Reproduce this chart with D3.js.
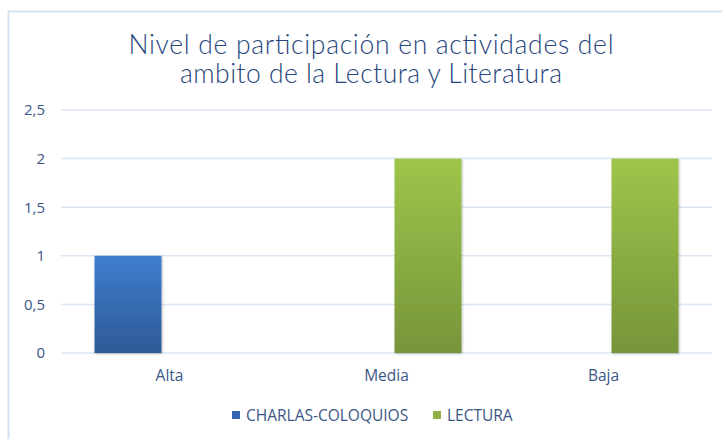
<!DOCTYPE html>
<html>
<head>
<meta charset="utf-8">
<script src="https://cdn.jsdelivr.net/npm/d3@7"></script>
<style>
  body { margin: 0; background: #fff; }
  svg { display: block; }
</style>
</head>
<body>
<svg id="chart"></svg>
<script>
// data
let categories = ['Alta', 'Media', 'Baja'];
let seriesNames = ['CHARLAS-COLOQUIOS', 'LECTURA'];
let charlasValues = [1, 0, 0];
let lecturaValues = [0, 2, 2];
let yTicks = [0, 0.5, 1, 1.5, 2, 2.5];
let titleLines = ['Nivel de participación en actividades del', 'ambito de la Lectura y Literatura'];

let width = 722;
let height = 439;
let margin = { top: 110, bot: 86, left: 61, right: 10 };
let bodyWidth = width - margin.left - margin.right;
let bodyHeight = height - margin.top - margin.bot;

let textColor = '#3a5687';
let gridColor = '#dce6f2';

let svg = d3.select('#chart')
  .attr('width', width)
  .attr('height', height);

// gradients for bars
let defs = svg.append('defs');
function addGradient(id, top, bottom) {
  let g = defs.append('linearGradient')
    .attr('id', id)
    .attr('x1', 0).attr('x2', 0)
    .attr('y1', 0).attr('y2', 1);
  g.append('stop').attr('offset', '0%').attr('stop-color', top);
  g.append('stop').attr('offset', '100%').attr('stop-color', bottom);
}
addGradient('grad0', '#3e7dcd', '#2d5b98');
addGradient('grad1', '#9ec54b', '#76953a');
let shadow = defs.append('filter').attr('id', 'shadow')
  .attr('x', '-10%').attr('y', '-10%').attr('width', '130%').attr('height', '130%');
shadow.append('feDropShadow')
  .attr('dx', 1).attr('dy', 1).attr('stdDeviation', 1.2)
  .attr('flood-color', '#000').attr('flood-opacity', 0.25);

// chart frame (only left and top edges are visible)
svg.append('rect')
  .attr('x', 8.5).attr('y', 11.5)
  .attr('width', width + 20).attr('height', height + 20)
  .attr('fill', 'none')
  .attr('stroke', '#d6e2f1')
  .attr('stroke-width', 2);

// title, stretched to the width of the original
let titleWidths = [485, 382];
svg.append('text')
  .attr('text-anchor', 'middle')
  .style('font-family', 'Lato, sans-serif')
  .style('font-weight', 300)
  .style('font-size', '26.5px')
  .style('fill', '#27467c')
  .selectAll('tspan')
  .data(titleLines)
  .join('tspan')
  .attr('x', 371)
  .attr('y', (d, i) => 54 + i * 29)
  .attr('textLength', (d, i) => titleWidths[i])
  .attr('lengthAdjust', 'spacing')
  .text(d => d);

let xScale = d3.scaleBand()
  .domain(categories)
  .range([0, bodyWidth]);
let subScale = d3.scaleBand()
  .domain(seriesNames)
  .range([-75, 75])
  .paddingInner(0.193);
let yScale = d3.scaleLinear()
  .domain([0, 2.5])
  .range([bodyHeight, 0]);

let body = svg.append('g')
  .attr('transform', `translate(${margin.left},${margin.top})`);

// gridlines
body.append('g')
  .selectAll('line')
  .data(yTicks)
  .join('line')
  .attr('x1', 0)
  .attr('x2', bodyWidth)
  .attr('y1', d => yScale(d))
  .attr('y2', d => yScale(d))
  .attr('stroke', gridColor)
  .attr('stroke-width', 1.5);

// y axis labels
let yAx = d3.axisLeft(yScale)
  .tickValues(yTicks)
  .tickSize(0)
  .tickPadding(16)
  .tickFormat(d => String(d).replace('.', ','));
let yAxGroup = body.append('g').call(yAx);
yAxGroup.select('.domain').remove();
yAxGroup.selectAll('text')
  .style('font-family', '"Open Sans", sans-serif')
  .style('font-size', '15px')
  .style('fill', textColor);

// x axis labels
let xAx = d3.axisBottom(xScale).tickSize(0).tickPadding(17);
let xAxGroup = body.append('g')
  .attr('transform', `translate(0,${bodyHeight})`)
  .call(xAx);
xAxGroup.select('.domain').remove();
xAxGroup.selectAll('text')
  .style('font-family', '"Open Sans", sans-serif')
  .style('font-size', '15.5px')
  .style('fill', textColor);

// bars
let seriesData = [charlasValues, lecturaValues];
seriesData.forEach((values, si) => {
  body.append('g')
    .selectAll('rect')
    .data(values.map((v, i) => ({ cat: categories[i], value: v })).filter(d => d.value > 0))
    .join('rect')
    .attr('x', d => xScale(d.cat) + xScale.bandwidth() / 2 + subScale(seriesNames[si]))
    .attr('width', subScale.bandwidth())
    .attr('y', d => yScale(d.value))
    .attr('height', d => bodyHeight - yScale(d.value))
    .attr('fill', `url(#grad${si})`)
    .attr('filter', 'url(#shadow)');
});

// legend
let legendColors = ['#3266b0', '#8db144'];
let legendX = [232, 433];
let legend = svg.append('g');
seriesNames.forEach((name, i) => {
  legend.append('rect')
    .attr('x', legendX[i])
    .attr('y', 411)
    .attr('width', 8)
    .attr('height', 8)
    .attr('fill', legendColors[i]);
  legend.append('text')
    .attr('x', legendX[i] + 14)
    .attr('y', 421)
    .style('font-family', '"Open Sans", sans-serif')
    .style('font-size', '15.5px')
    .style('fill', textColor)
    .text(name);
});
</script>
</body>
</html>
